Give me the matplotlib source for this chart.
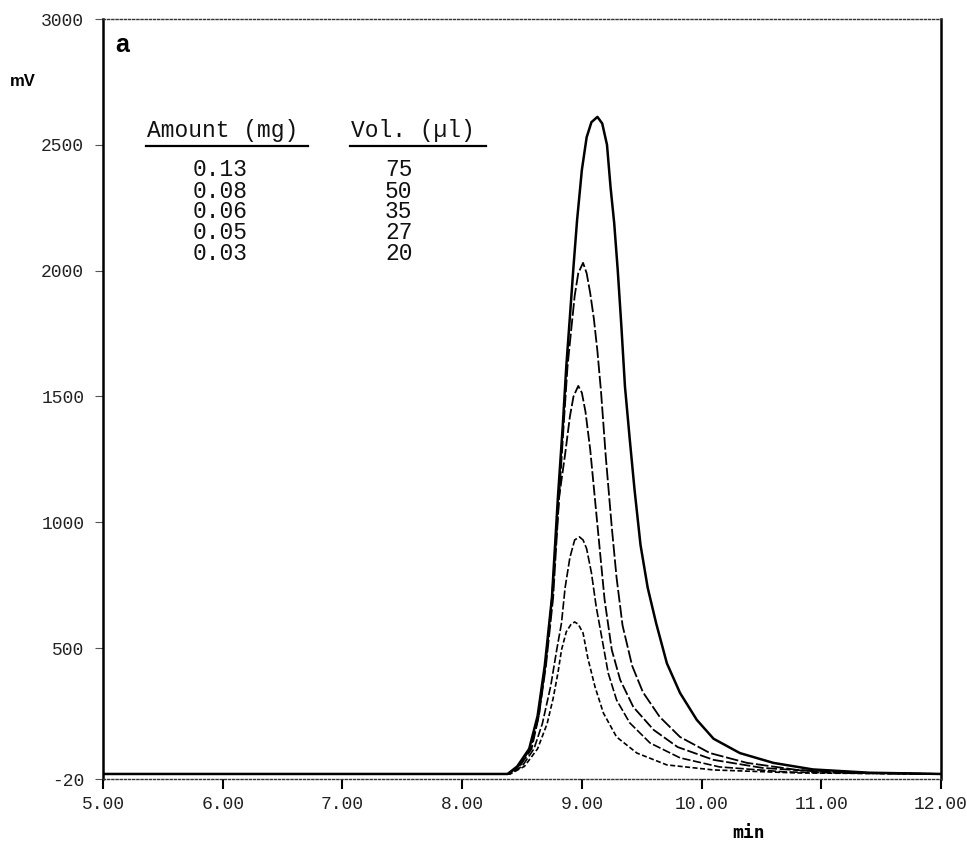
import matplotlib
matplotlib.use("Agg")
import matplotlib.pyplot as plt

# ---- data (time in min, signal in mV) ----
t_013 = [5.00, 8.20, 8.38, 8.46, 8.56, 8.63, 8.69, 8.75, 8.80, 8.84, 8.87, 8.90, 8.93,
         8.96, 9.00, 9.04, 9.08, 9.13, 9.17, 9.21, 9.24, 9.27, 9.30, 9.33, 9.36, 9.40,
         9.44, 9.49, 9.55, 9.62, 9.71, 9.82, 9.96, 10.10, 10.32, 10.60, 10.93, 11.40, 12.00]
v_013 = [0, 0, 0, 30, 100, 230, 430, 700, 1100, 1380, 1620, 1816, 2015,
         2200, 2400, 2530, 2590, 2611, 2585, 2500, 2330, 2190, 2000, 1780, 1540, 1330,
         1130, 910, 740, 600, 440, 322, 215, 140, 83, 44, 18, 5, 0]

t_008 = [5.00, 8.20, 8.38, 8.47, 8.57, 8.64, 8.70, 8.76, 8.81, 8.85, 8.88, 8.91, 8.94,
         8.97, 9.01, 9.04, 9.07, 9.10, 9.13, 9.16, 9.20, 9.25, 9.29, 9.34, 9.42, 9.51,
         9.65, 9.82, 10.07, 10.38, 10.80, 11.40, 12.00]
v_008 = [0, 0, 0, 30, 100, 230, 430, 700, 1100, 1400, 1618, 1760, 1900,
         1990, 2031, 1990, 1910, 1810, 1680, 1520, 1260, 980, 780, 590, 430, 325,
         227, 147, 83, 44, 16, 4, 0]

t_006 = [5.00, 8.20, 8.38, 8.48, 8.58, 8.64, 8.70, 8.75, 8.78, 8.81, 8.86, 8.90, 8.93,
         8.97, 9.00, 9.03, 9.07, 9.11, 9.15, 9.19, 9.25, 9.32, 9.43, 9.60, 9.80, 10.10,
         10.51, 11.10, 12.00]
v_006 = [0, 0, 0, 30, 100, 230, 450, 700, 900, 1100, 1270, 1420, 1500,
         1542, 1515, 1440, 1288, 1089, 890, 692, 493, 374, 266, 175, 107, 56,
         24, 6, 0]

t_005 = [5.00, 8.20, 8.40, 8.50, 8.60, 8.67, 8.74, 8.79, 8.83, 8.86, 8.90, 8.94, 8.98,
         9.01, 9.04, 9.08, 9.12, 9.17, 9.22, 9.29, 9.40, 9.57, 9.82, 10.15, 10.70, 11.40,
         12.00]
v_005 = [0, 0, 0, 30, 100, 200, 350, 493, 600, 740, 860, 930, 942,
         930, 895, 799, 664, 533, 401, 294, 203, 123, 64, 28, 8, 2,
         0]

t_003 = [5.00, 8.20, 8.40, 8.52, 8.63, 8.71, 8.76, 8.80, 8.83, 8.87, 8.91, 8.94, 8.97,
         9.01, 9.05, 9.11, 9.18, 9.29, 9.46, 9.71, 10.10, 10.80, 12.00]
v_003 = [0, 0, 0, 30, 100, 200, 300, 401, 493, 565, 595, 604, 595,
         560, 460, 346, 242, 147, 83, 36, 16, 4, 0]

amounts = ["0.13", "0.08", "0.06", "0.05", "0.03"]
volumes = ["75", "50", "35", "27", "20"]

x_ticks = [5, 6, 7, 8, 9, 10, 11, 12]
x_tick_labels = ["5.00", "6.00", "7.00", "8.00", "9.00", "10.00", "11.00", "12.00"]
y_ticks = [-20, 500, 1000, 1500, 2000, 2500, 3000]
y_tick_labels = ["-20", "500", "1000", "1500", "2000", "2500", "3000"]

# ---- figure ----
fig = plt.figure(figsize=(9.67, 8.41), dpi=100)
ax = fig.add_axes([103 / 967, 1 - 779 / 841, (941 - 103) / 967, (779 - 19) / 841])

series = [
    (t_013, v_013, "-", 1.8),
    (t_008, v_008, (0, (7, 1.5)), 1.3),
    (t_006, v_006, (0, (6, 1.5)), 1.3),
    (t_005, v_005, (0, (5, 1.5)), 1.2),
    (t_003, v_003, (0, (3, 1.5)), 1.2),
]
for t, v, ls, lw in series:
    ax.plot(t, v, color="black", linestyle=ls, linewidth=lw, solid_joinstyle="round")

ax.set_xlim(5, 12)
ax.set_ylim(-20, 3000)

ax.set_xticks(x_ticks)
ax.set_xticklabels(x_tick_labels, family="Liberation Mono", fontsize=13, color="#222222")
ax.set_yticks(y_ticks)
ax.set_yticklabels(y_tick_labels, family="Liberation Mono", fontsize=13, color="#222222")
ax.tick_params(axis="x", direction="out", length=7, width=1.5, pad=5, color="black")
ax.tick_params(axis="y", direction="out", length=5.5, width=0.8, pad=8, color="#555555")

for side in ["left", "right"]:
    ax.spines[side].set_linewidth(1.8)
    ax.spines[side].set_color("black")
for side in ["top", "bottom"]:
    ax.spines[side].set_linewidth(1.0)
    ax.spines[side].set_linestyle((0, (1.5, 1.5)))
    ax.spines[side].set_color("#333333")

# axis labels & panel label
fig.text(23 / 967, 1 - 82 / 841, "mV", family="Liberation Sans", fontweight="bold",
         fontsize=12, ha="center", va="center")
fig.text(749 / 967, 1 - 833 / 841, "min", family="DejaVu Sans Mono", fontweight="bold",
         fontsize=13, ha="center", va="center")
fig.text(122 / 967, 1 - 45 / 841, "a", family="Liberation Sans", fontweight="bold",
         fontsize=18, ha="center", va="center")

# table of amounts / volumes
def fx(px):
    return px / 967

def fy(py):
    return 1 - py / 841

mono = dict(family="Liberation Mono", fontsize=16.5, color="#111111")
fig.text(fx(147), fy(131), "Amount (mg)", ha="left", va="center", **mono)
fig.text(fx(351), fy(131), "Vol. (\u00b5l)", ha="left", va="center", **mono)
fig.add_artist(plt.Line2D([fx(146), fx(308)], [fy(146), fy(146)], color="black", lw=1.6))
fig.add_artist(plt.Line2D([fx(350), fx(486)], [fy(146), fy(146)], color="black", lw=1.6))

row_y = [170, 191, 212, 233, 254]
for a, vol, ry in zip(amounts, volumes, row_y):
    fig.text(fx(193), fy(ry), a, ha="left", va="center", **mono)
    fig.text(fx(385), fy(ry), vol, ha="left", va="center", **mono)

fig.savefig("out.png", dpi=100)
